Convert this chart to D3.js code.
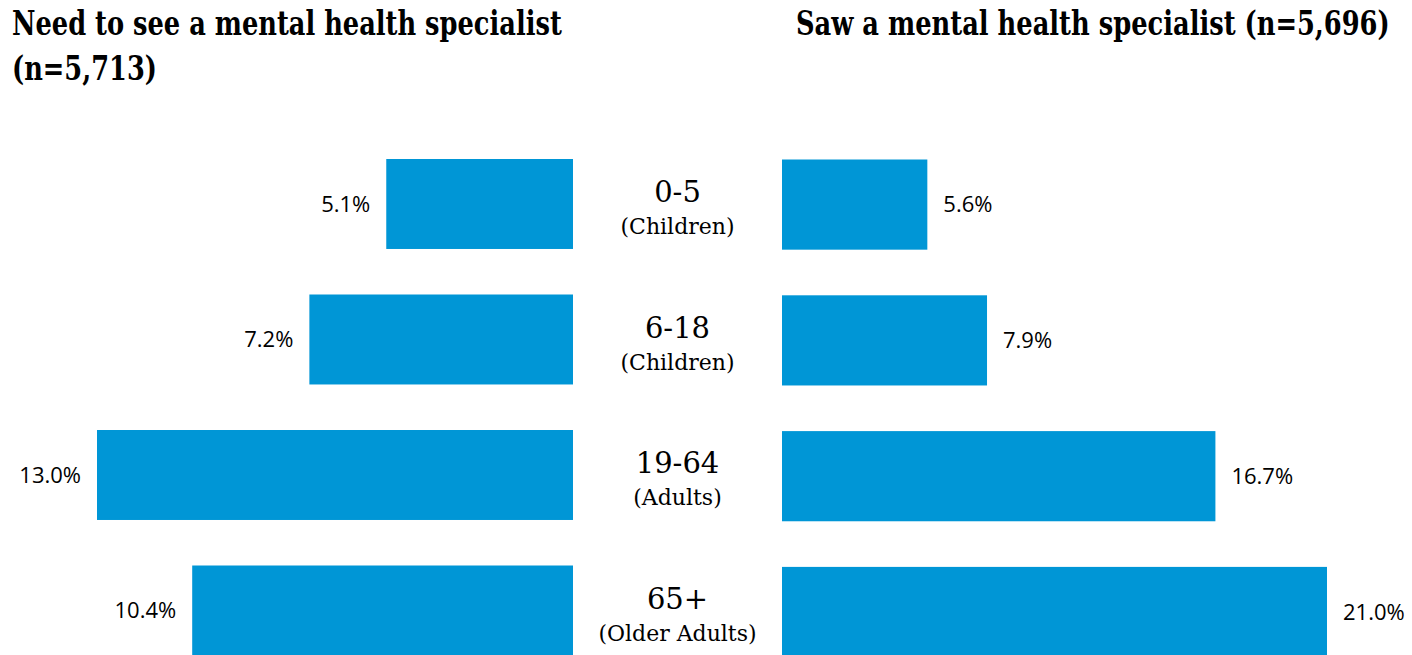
<!DOCTYPE html>
<html>
<head>
<meta charset="utf-8">
<script src="https://cdn.jsdelivr.net/npm/d3@7/dist/d3.min.js"></script>
<style>
  html, body { margin: 0; padding: 0; background: #fff; }
  svg { display: block; }
</style>
</head>
<body>
<svg id="chart"></svg>
<script>
// Data
const ageGroups = ['0-5', '6-18', '19-64', '65+'];
const groupNotes = ['(Children)', '(Children)', '(Adults)', '(Older Adults)'];
const needValues = [5.1, 7.2, 13.0, 10.4];
const sawValues = [5.6, 7.9, 16.7, 21.0];
const titleNeed = ['Need to see a mental health specialist', '(n=5,713)'];
const titleSaw = 'Saw a mental health specialist (n=5,696)';

const width = 1412;
const height = 655;
const barColor = '#0096d6';

const svg = d3.select('#chart')
  .attr('width', width)
  .attr('height', height);

// Scales: left panel grows to the left from x=573, right panel grows to the right from x=782
const xNeed = d3.scaleLinear()
  .domain([0, 13])
  .range([573, 97]);

const xSaw = d3.scaleLinear()
  .domain([0, 21])
  .range([782, 1327]);

const yNeed = d3.scaleBand()
  .domain(ageGroups)
  .range([159, 159 + 4 * 135.5])
  .paddingInner(0.336)
  .paddingOuter(0.168)
  .align(0);

const ySaw = d3.scaleBand()
  .domain(ageGroups)
  .range([159.5, 159.5 + 4 * 135.8])
  .paddingInner(0.336)
  .paddingOuter(0.168)
  .align(0);

// Titles: squeezed horizontally to the reference width
function addTitle(x, y, str, targetWidth) {
  const g = svg.append('g');
  const t = g.append('text')
    .attr('font-family', '"DejaVu Serif", serif')
    .attr('font-weight', 'bold')
    .attr('font-size', 34)
    .attr('fill', '#000')
    .text(str);
  const natural = t.node().getComputedTextLength();
  g.attr('transform', `translate(${x}, ${y}) scale(${targetWidth / natural}, 1)`);
}

addTitle(12, 35, titleNeed[0], 550);
addTitle(12, 80, titleNeed[1], 145);
addTitle(796, 35, titleSaw, 594);

// Left bars
svg.append('g')
  .selectAll('rect')
  .data(needValues)
  .join('rect')
    .attr('x', d => xNeed(d))
    .attr('y', (d, i) => yNeed(ageGroups[i]))
    .attr('width', d => xNeed(0) - xNeed(d))
    .attr('height', yNeed.bandwidth())
    .attr('fill', barColor);

svg.append('g')
  .selectAll('text')
  .data(needValues)
  .join('text')
    .attr('x', d => xNeed(d) - 16)
    .attr('y', (d, i) => yNeed(ageGroups[i]) + yNeed.bandwidth() / 2)
    .attr('dy', '0.35em')
    .attr('text-anchor', 'end')
    .attr('font-family', '"Open Sans", sans-serif')
    .attr('font-size', 22)
    .attr('fill', '#000')
    .text(d => d.toFixed(1) + '%');

// Right bars
svg.append('g')
  .selectAll('rect')
  .data(sawValues)
  .join('rect')
    .attr('x', xSaw(0))
    .attr('y', (d, i) => ySaw(ageGroups[i]))
    .attr('width', d => xSaw(d) - xSaw(0))
    .attr('height', ySaw.bandwidth())
    .attr('fill', barColor);

svg.append('g')
  .selectAll('text')
  .data(sawValues)
  .join('text')
    .attr('x', d => xSaw(d) + 16)
    .attr('y', (d, i) => ySaw(ageGroups[i]) + ySaw.bandwidth() / 2)
    .attr('dy', '0.35em')
    .attr('text-anchor', 'start')
    .attr('font-family', '"Open Sans", sans-serif')
    .attr('font-size', 22)
    .attr('fill', '#000')
    .text(d => d.toFixed(1) + '%');

// Center category labels
const centerX = (xNeed(0) + xSaw(0)) / 2;
const labels = svg.append('g')
  .selectAll('g')
  .data(ageGroups)
  .join('g')
    .attr('transform', d => `translate(${centerX}, ${yNeed(d)})`);

labels.append('text')
  .attr('y', 43)
  .attr('text-anchor', 'middle')
  .attr('font-family', '"DejaVu Serif", serif')
  .attr('font-size', 29)
  .attr('fill', '#000')
  .text(d => d);

labels.append('text')
  .attr('y', 75)
  .attr('text-anchor', 'middle')
  .attr('font-family', '"DejaVu Serif", serif')
  .attr('font-size', 22)
  .attr('fill', '#000')
  .text((d, i) => groupNotes[i]);
</script>
</body>
</html>
